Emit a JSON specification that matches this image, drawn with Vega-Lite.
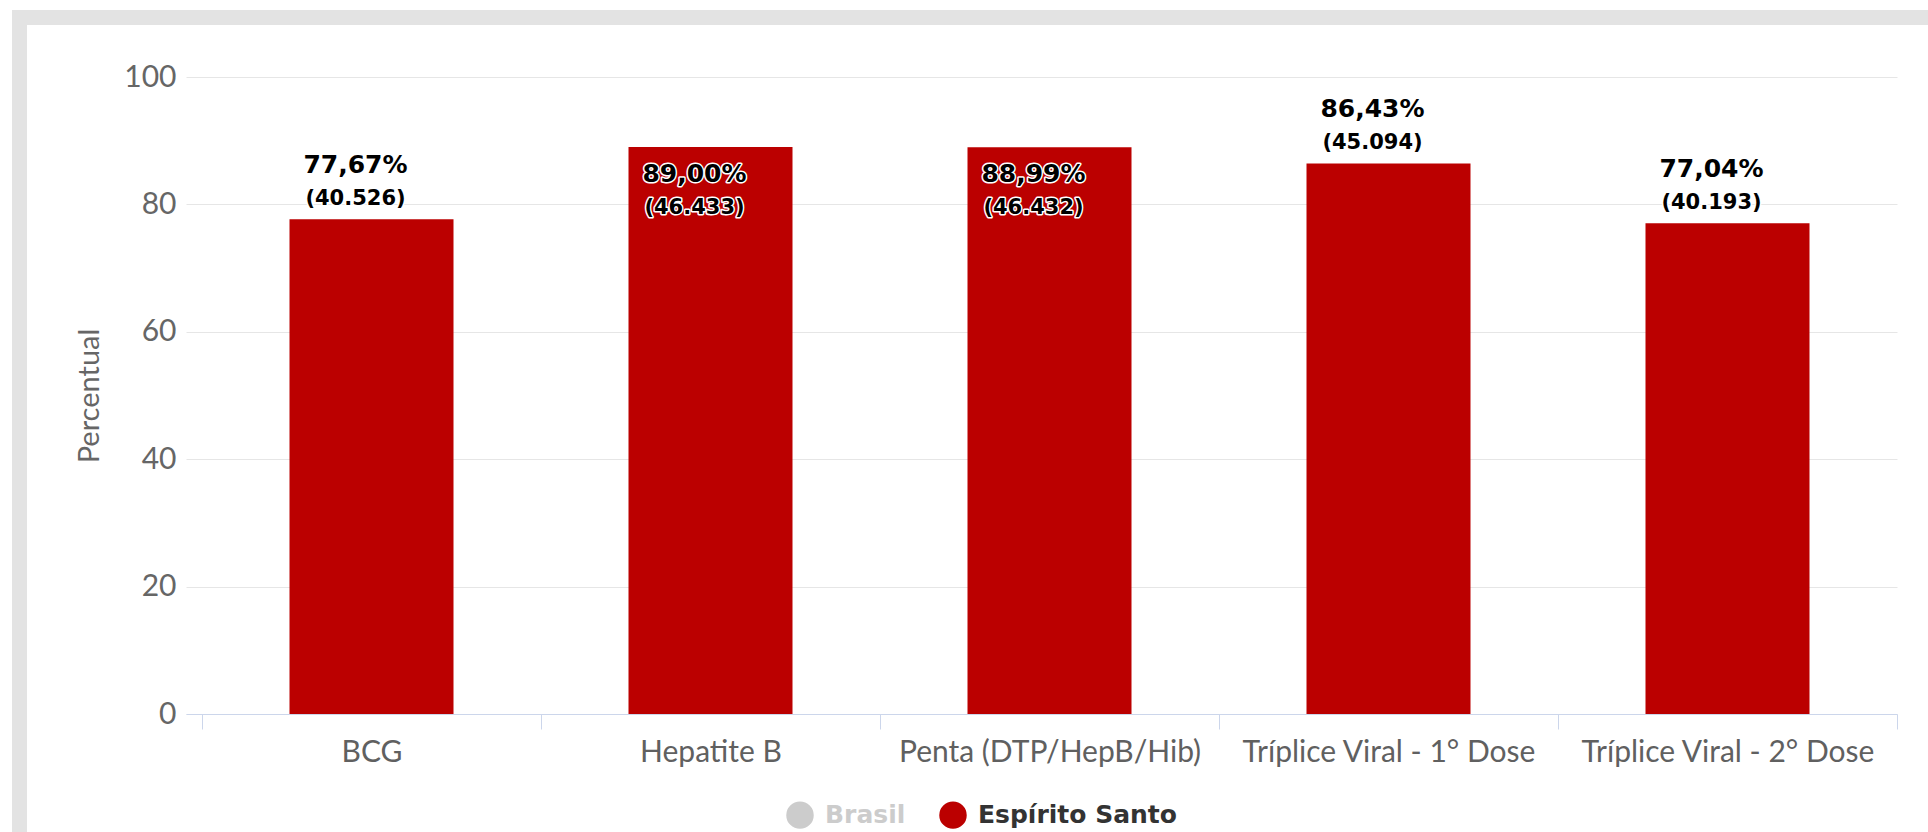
{
  "$schema": "https://vega.github.io/schema/vega-lite/v6.json",
  "width": 1711,
  "height": 637,
  "autosize": {"type": "none"},
  "padding": {"left": 186, "top": 77, "right": 31, "bottom": 118},
  "background": "white",
  "config": {"view": {"stroke": null}},
  "data": {
    "values": [
      {"vacina": "BCG", "pct": 77.67, "doses": 40526, "serie": "Espírito Santo"},
      {"vacina": "Hepatite B", "pct": 89.00, "doses": 46433, "serie": "Espírito Santo"},
      {"vacina": "Penta (DTP/HepB/Hib)", "pct": 88.99, "doses": 46432, "serie": "Espírito Santo"},
      {"vacina": "Tríplice Viral - 1° Dose", "pct": 86.43, "doses": 45094, "serie": "Espírito Santo"},
      {"vacina": "Tríplice Viral - 2° Dose", "pct": 77.04, "doses": 40193, "serie": "Espírito Santo"}
    ]
  },
  "transform": [
    {"calculate": "replace(format(datum.pct, '.2f'), '.', ',') + '%'", "as": "pct_label"},
    {"calculate": "'(' + replace(format(datum.doses, ','), ',', '.') + ')'", "as": "doses_label"}
  ],
  "encoding": {
    "x": {
      "field": "vacina",
      "type": "nominal",
      "sort": null,
      "scale": {"paddingInner": 0, "paddingOuter": 0.0236, "align": 1},
      "axis": {
        "title": null,
        "labelAngle": 0,
        "labelFont": "Lato",
        "labelFontSize": 30,
        "labelColor": "#606060",
        "labelLimit": 0,
        "labelPadding": 8,
        "domainColor": "#ccd6eb",
        "domainWidth": 1,
        "tickColor": "#ccd6eb",
        "tickWidth": 1,
        "tickSize": 15,
        "tickBand": "extent",
        "grid": false
      }
    },
    "y": {
      "field": "pct",
      "type": "quantitative",
      "scale": {"domain": [0, 100], "nice": false},
      "axis": {
        "title": "Percentual",
        "titleFont": "Lato",
        "titleFontSize": 29,
        "titleFontWeight": "normal",
        "titleColor": "#666666",
        "titlePadding": 19,
        "values": [0, 20, 40, 60, 80, 100],
        "labelFont": "Lato",
        "labelFontSize": 30,
        "labelColor": "#666666",
        "labelPadding": 10,
        "ticks": false,
        "domain": false,
        "grid": true,
        "gridColor": "#e6e6e6",
        "gridWidth": 1
      }
    }
  },
  "layer": [
    {
      "mark": {"type": "bar", "width": {"band": 0.4838}},
      "encoding": {
        "color": {
          "field": "serie",
          "type": "nominal",
          "scale": {"domain": ["Brasil", "Espírito Santo"], "range": ["#cccccc", "#bb0000"]},
          "legend": {
            "title": " ",
            "titleFontSize": 12,
            "titlePadding": 5,
            "titleOrient": "top",
            "orient": "none",
            "direction": "horizontal",
            "legendX": -166.5,
            "legendY": -59.5,
            "padding": 766.5,
            "strokeColor": "#e3e3e3",
            "symbolType": "circle",
            "symbolSize": 755,
            "symbolStrokeWidth": 0,
            "symbolOpacity": 1,
            "labelFont": "DejaVu Sans",
            "labelFontSize": 25,
            "labelFontWeight": "bold",
            "labelOffset": 11,
            "columnPadding": 33,
            "labelLimit": 0,
            "encode": {
              "legend": {"update": {"strokeWidth": {"value": 15}}},
              "labels": {"update": {"fill": {"signal": "datum.label === 'Brasil' ? '#cccccc' : '#333333'"}}}
            }
          }
        }
      }
    },
    {
      "transform": [{"filter": "datum.pct < 88"}],
      "layer": [
        {"mark": {"type": "text", "font": "DejaVu Sans", "fontWeight": "bold", "fontSize": 25, "baseline": "alphabetic", "dx": -16, "dy": -46, "fill": "white", "stroke": "white", "strokeWidth": 3, "strokeJoin": "round"}, "encoding": {"text": {"field": "pct_label"}}},
        {"mark": {"type": "text", "font": "DejaVu Sans", "fontWeight": "bold", "fontSize": 21, "baseline": "alphabetic", "dx": -16, "dy": -14, "fill": "white", "stroke": "white", "strokeWidth": 3, "strokeJoin": "round"}, "encoding": {"text": {"field": "doses_label"}}},
        {"mark": {"type": "text", "font": "DejaVu Sans", "fontWeight": "bold", "fontSize": 25, "baseline": "alphabetic", "dx": -16, "dy": -46, "fill": "#000000"}, "encoding": {"text": {"field": "pct_label"}}},
        {"mark": {"type": "text", "font": "DejaVu Sans", "fontWeight": "bold", "fontSize": 21, "baseline": "alphabetic", "dx": -16, "dy": -14, "fill": "#000000"}, "encoding": {"text": {"field": "doses_label"}}}
      ]
    },
    {
      "transform": [{"filter": "datum.pct >= 88"}],
      "layer": [
        {"mark": {"type": "text", "font": "DejaVu Sans", "fontWeight": "bold", "fontSize": 25, "baseline": "alphabetic", "dx": -16, "dy": 35, "fill": "white", "stroke": "white", "strokeWidth": 3, "strokeJoin": "round"}, "encoding": {"text": {"field": "pct_label"}}},
        {"mark": {"type": "text", "font": "DejaVu Sans", "fontWeight": "bold", "fontSize": 21, "baseline": "alphabetic", "dx": -16, "dy": 67, "fill": "white", "stroke": "white", "strokeWidth": 3, "strokeJoin": "round"}, "encoding": {"text": {"field": "doses_label"}}},
        {"mark": {"type": "text", "font": "DejaVu Sans", "fontWeight": "bold", "fontSize": 25, "baseline": "alphabetic", "dx": -16, "dy": 35, "fill": "#000000"}, "encoding": {"text": {"field": "pct_label"}}},
        {"mark": {"type": "text", "font": "DejaVu Sans", "fontWeight": "bold", "fontSize": 21, "baseline": "alphabetic", "dx": -16, "dy": 67, "fill": "#000000"}, "encoding": {"text": {"field": "doses_label"}}}
      ]
    }
  ]
}
